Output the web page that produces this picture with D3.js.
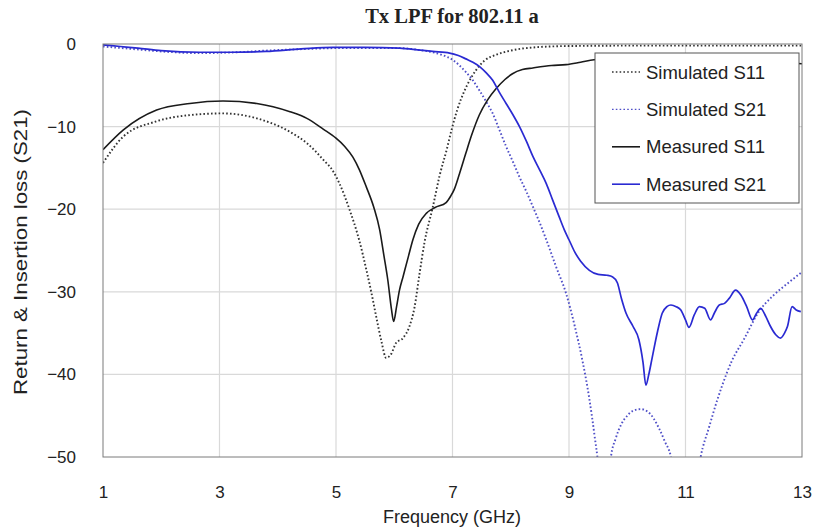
<!DOCTYPE html>
<html>
<head>
<meta charset="utf-8">
<script src="https://cdn.jsdelivr.net/npm/d3@7"></script>
<style>
  body { margin: 0; background: #fff; }
  text { font-family: "Liberation Sans", Arial, sans-serif; fill: #222; }
</style>
</head>
<body>
<div id="chart"></div>
<script>
// frequency (GHz) / dB values
const simS11F = [1.0, 1.35, 1.9, 2.5, 3.06, 3.64, 4.2, 4.5, 4.78, 4.95, 5.06, 5.23, 5.4, 5.52, 5.61, 5.69, 5.78, 5.86, 5.95, 6.03, 6.15, 6.26, 6.35, 6.43, 6.52, 6.66, 6.78, 6.9, 6.98, 7.08, 7.15, 7.25, 7.4, 7.55, 7.75, 8.0, 8.26, 8.95, 10, 11, 12, 13];
const simS11V = [-14.4, -11.2, -9.4, -8.6, -8.4, -9.0, -10.6, -12.0, -14.0, -15.4, -16.9, -20.0, -23.8, -27.3, -30.2, -33.0, -36.0, -38.0, -37.5, -36.2, -35.6, -34.2, -31.8, -28.0, -24.0, -19.8, -15.9, -12.8, -10.5, -8.0, -6.6, -5.0, -3.2, -2.0, -1.3, -0.8, -0.5, -0.25, -0.2, -0.2, -0.2, -0.2];

const simS21F = [1.0, 1.5, 2.0, 2.66, 3.3, 3.8, 4.5, 5.0, 5.5, 6.09, 6.4, 6.66, 6.85, 7.0, 7.12, 7.23, 7.35, 7.46, 7.58, 7.69, 7.8, 7.92, 8.04, 8.15, 8.27, 8.38, 8.5, 8.61, 8.78, 8.95, 9.1, 9.23, 9.35, 9.44, 9.5, 9.56, 9.65, 9.72, 9.8, 9.9, 10.0, 10.1, 10.23, 10.35, 10.45, 10.55, 10.65, 10.75, 10.85, 11.0, 11.15, 11.26, 11.4, 11.55, 11.7, 11.8, 12.0, 12.26, 12.5, 12.75, 13.0];
const simS21V = [-0.3, -0.6, -0.9, -1.1, -1.0, -0.8, -0.6, -0.5, -0.5, -0.5, -0.7, -1.0, -1.4, -1.9, -2.6, -3.4, -4.4, -5.6, -7.0, -8.4, -10.3, -12.4, -14.3, -16.1, -17.9, -19.7, -21.7, -23.7, -27.0, -30.2, -34.2, -38.3, -43.0, -47.5, -51, -58, -58, -50, -47.8, -46.0, -45.0, -44.4, -44.2, -44.5, -45.3, -46.6, -48.2, -50.0, -55, -62, -55, -50, -46.5, -43.0, -40.0, -38.3, -35.8, -32.4, -30.5, -29.0, -27.6];

const measS11F = [1.0, 1.35, 1.92, 2.49, 3.06, 3.64, 4.21, 4.5, 4.78, 5.0, 5.15, 5.29, 5.4, 5.52, 5.65, 5.75, 5.82, 5.89, 5.95, 5.99, 6.04, 6.09, 6.15, 6.24, 6.32, 6.42, 6.55, 6.7, 6.89, 6.97, 7.03, 7.12, 7.23, 7.33, 7.46, 7.6, 7.75, 7.9, 8.03, 8.2, 8.38, 8.7, 8.95, 9.2, 9.43, 10, 11, 12, 13];
const measS11V = [-12.8, -10.4, -8.0, -7.2, -6.9, -7.2, -8.2, -9.0, -10.3, -11.4, -12.4, -13.7, -15.2, -17.3, -19.8, -22.5, -25.5, -28.6, -32.0, -33.6, -31.8, -29.8, -28.2, -25.8, -23.7, -21.8, -20.5, -19.8, -19.2, -18.4, -17.6, -15.7, -13.2, -11.0, -8.6, -6.8, -5.4, -4.3, -3.6, -3.1, -2.9, -2.6, -2.5, -2.2, -1.9, -1.7, -1.7, -2.0, -2.4];

const measS21F = [1.0, 1.3, 1.6, 2.0, 2.66, 3.2, 3.8, 4.4, 4.95, 5.5, 6.09, 6.4, 6.66, 6.95, 7.1, 7.23, 7.35, 7.46, 7.58, 7.69, 7.8, 7.92, 8.04, 8.15, 8.27, 8.38, 8.5, 8.61, 8.72, 8.83, 8.92, 9.0, 9.1, 9.2, 9.35, 9.5, 9.65, 9.75, 9.83, 9.9, 9.98, 10.1, 10.2, 10.27, 10.32, 10.37, 10.43, 10.52, 10.6, 10.68, 10.75, 10.84, 10.92, 11.0, 11.06, 11.15, 11.24, 11.33, 11.43, 11.5, 11.58, 11.67, 11.75, 11.86, 11.95, 12.05, 12.15, 12.22, 12.29, 12.38, 12.46, 12.55, 12.63, 12.7, 12.75, 12.83, 12.9, 12.98];
const measS21V = [-0.1, -0.3, -0.5, -0.8, -1.0, -1.0, -0.9, -0.6, -0.4, -0.4, -0.5, -0.7, -0.9, -1.1, -1.4, -1.8, -2.2, -2.7, -3.5, -4.4, -5.8, -7.2, -8.6, -10.0, -11.8, -13.6, -15.3, -16.9, -18.9, -20.9, -22.5, -23.7, -25.2, -26.3, -27.4, -27.9, -28.0, -28.2, -28.9, -30.8, -32.6, -34.2, -35.8, -38.5, -41.3, -40.0, -37.9, -34.8, -32.6, -31.8, -31.6, -31.8, -32.2, -33.4, -34.3, -32.8, -31.8, -32.0, -33.4, -32.5, -31.6, -31.4, -30.8, -29.8, -30.4, -31.8, -33.4, -32.6, -32.0, -33.0, -34.2, -35.2, -35.6, -35.0, -34.2, -31.8, -32.2, -32.4];

const xTicks = [1, 3, 5, 7, 9, 11, 13];
const yTicks = [0, -10, -20, -30, -40, -50];
const seriesNames = ["Simulated S11", "Simulated S21", "Measured S11", "Measured S21"];

const W = 817, H = 528;
const mLeft = 103, mRight = 802, mTop = 44, mBottom = 457;

const svg = d3.select("#chart").append("svg")
    .attr("width", W)
    .attr("height", H);

svg.append("rect").attr("width", W).attr("height", H).attr("fill", "#fff");

const x = d3.scaleLinear().domain([1, 13]).range([mLeft, mRight]);
const y = d3.scaleLinear().domain([-50, 0]).range([mBottom, mTop]);

// grid
svg.append("g").selectAll("line")
    .data(xTicks.slice(1, -1))
    .join("line")
    .attr("x1", d => x(d)).attr("x2", d => x(d))
    .attr("y1", mTop).attr("y2", mBottom)
    .attr("stroke", "#d9d9d9").attr("stroke-width", 1.2);

svg.append("g").selectAll("line")
    .data(yTicks.slice(1, -1))
    .join("line")
    .attr("x1", mLeft).attr("x2", mRight)
    .attr("y1", d => y(d)).attr("y2", d => y(d))
    .attr("stroke", "#d9d9d9").attr("stroke-width", 1.2);

// axes (labels only)
const xAxis = svg.append("g")
    .attr("transform", `translate(0,${mBottom + 26})`)
    .call(d3.axisBottom(x).tickValues(xTicks).tickSize(0).tickFormat(d3.format("d")));
xAxis.select(".domain").remove();
xAxis.selectAll("text").attr("font-size", 17).attr("font-family", null).attr("fill", "#222");

const yAxis = svg.append("g")
    .attr("transform", `translate(${mLeft - 24},0)`)
    .call(d3.axisLeft(y).tickValues(yTicks).tickSize(0).tickFormat(d3.format("d")));
yAxis.select(".domain").remove();
yAxis.selectAll("text").attr("font-size", 17).attr("font-family", null).attr("fill", "#222");

svg.append("defs").append("clipPath").attr("id", "plotclip")
    .append("rect").attr("x", mLeft).attr("y", mTop)
    .attr("width", mRight - mLeft).attr("height", mBottom - mTop);

const line = d3.line()
    .x(d => x(d[0]))
    .y(d => y(d[1]))
    .curve(d3.curveMonotoneX);

const zip = (fs, vs) => fs.map((f, i) => [f, vs[i]]);

const styles = [
    { data: zip(simS11F, simS11V), color: "#333", width: 1.9, dash: "1.6,2.2" },
    { data: zip(simS21F, simS21V), color: "#5050c8", width: 1.9, dash: "1.6,2.2" },
    { data: zip(measS11F, measS11V), color: "#1a1a1a", width: 1.6, dash: null },
    { data: zip(measS21F, measS21V), color: "#2a2ad2", width: 1.7, dash: null }
];

const plot = svg.append("g").attr("clip-path", "url(#plotclip)");
plot.selectAll("path")
    .data(styles)
    .join("path")
    .attr("d", d => line(d.data))
    .attr("fill", "none")
    .attr("stroke", d => d.color)
    .attr("stroke-width", d => d.width)
    .attr("stroke-dasharray", d => d.dash);

// plot border
svg.append("rect")
    .attr("x", mLeft).attr("y", mTop)
    .attr("width", mRight - mLeft).attr("height", mBottom - mTop)
    .attr("fill", "none").attr("stroke", "#7a7a7a").attr("stroke-width", 1);

// legend
const lg = svg.append("g");
lg.append("rect")
    .attr("x", 595).attr("y", 53).attr("width", 204).attr("height", 150)
    .attr("fill", "#fff").attr("stroke", "#555").attr("stroke-width", 1);

const items = lg.selectAll("g.item")
    .data(styles.map((s, i) => ({ ...s, name: seriesNames[i] })))
    .join("g")
    .attr("class", "item")
    .attr("transform", (d, i) => `translate(0,${72 + i * 37.4})`);

items.append("line")
    .attr("x1", 612).attr("x2", 640)
    .attr("stroke", d => d.color)
    .attr("stroke-width", d => d.dash ? 1.4 : 1.6)
    .attr("stroke-dasharray", d => d.dash);

items.append("text")
    .attr("x", 646).attr("y", 6.5)
    .attr("font-size", 18.5)
    .text(d => d.name);

// titles
svg.append("text")
    .attr("x", 452).attr("y", 23)
    .attr("text-anchor", "middle")
    .attr("font-weight", "bold")
    .attr("font-size", 20.5)
    .style("font-family", "'Liberation Serif', 'Times New Roman', serif")
    .text("Tx LPF for 802.11 a");

svg.append("text")
    .attr("x", 452).attr("y", 523)
    .attr("text-anchor", "middle")
    .attr("font-size", 18)
    .text("Frequency (GHz)");

svg.append("text")
    .attr("transform", "translate(27,252) rotate(-90)")
    .attr("text-anchor", "middle")
    .attr("font-size", 19)
    .attr("textLength", 286)
    .attr("lengthAdjust", "spacingAndGlyphs")
    .text("Return & Insertion loss (S21)");
</script>
</body>
</html>
